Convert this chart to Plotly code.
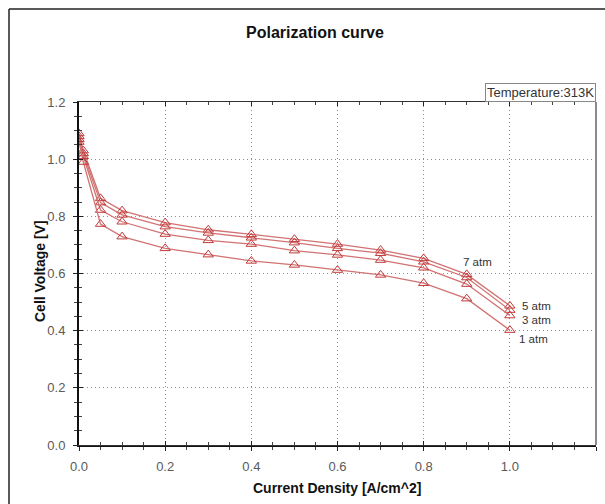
import plotly.graph_objects as go

# Current density [A/cm^2]
current_density = [0, 0.01, 0.05, 0.1, 0.2, 0.3, 0.4, 0.5, 0.6, 0.7, 0.8, 0.9, 1.0]

# Cell voltage [V] for each operating pressure
v_7atm = [1.09, 1.03, 0.863, 0.820, 0.778, 0.753, 0.737, 0.720, 0.703, 0.682, 0.653, 0.597, 0.487]
v_5atm = [1.08, 1.02, 0.848, 0.805, 0.764, 0.742, 0.725, 0.708, 0.688, 0.671, 0.641, 0.586, 0.472]
v_3atm = [1.07, 1.01, 0.822, 0.781, 0.738, 0.716, 0.703, 0.680, 0.665, 0.647, 0.620, 0.563, 0.453]
v_1atm = [1.06, 0.99, 0.773, 0.729, 0.688, 0.666, 0.644, 0.630, 0.612, 0.595, 0.566, 0.512, 0.402]

series_names = ["7 atm", "5 atm", "3 atm", "1 atm"]
series_values = [v_7atm, v_5atm, v_3atm, v_1atm]

# Curve label positions (data coordinates)
label_x = [0.925, 1.063, 1.062, 1.055]
label_y = [0.641, 0.487, 0.437, 0.370]

tick_vals = [0.0, 0.2, 0.4, 0.6, 0.8, 1.0, 1.2]

FONT = "Liberation Sans, Arial, sans-serif"
LINE_RED = "#d27272"
MARK_RED = "#c03a3a"

# plot-area pixel box inside the 605x504 canvas
L, R, T, B = 79, 596, 102, 445
W, H = R - L, B - T

fig = go.Figure()

for name, vals in zip(series_names, series_values):
    fig.add_trace(go.Scatter(
        x=current_density, y=vals, name=name, mode="lines+markers",
        line=dict(color=LINE_RED, width=1.3),
        marker=dict(symbol="triangle-up-open", size=9,
                    color=MARK_RED, line=dict(color=MARK_RED, width=1)),
        showlegend=False,
    ))

# companion axes carrying the inward half of the tick marks
fig.add_trace(go.Scatter(x=[None], y=[None], xaxis="x2", yaxis="y2",
                         showlegend=False, hoverinfo="skip"))

for name, lx, ly in zip(series_names, label_x, label_y):
    fig.add_annotation(x=lx, y=ly, text=name, showarrow=False,
                       xanchor="center", yanchor="middle",
                       font=dict(family=FONT, size=11.5, color="#333333"))

grid = dict(showgrid=True, gridcolor="#8c8c8c", griddash="1px,3px", gridwidth=1)

fig.update_layout(
    width=605, height=504,
    margin=dict(l=L, r=605 - R, t=T, b=504 - B),
    paper_bgcolor="white", plot_bgcolor="white",
    font=dict(family=FONT, size=13, color="#5a5a5a"),
    title=dict(text="<b>Polarization curve</b>", x=315 / 605, y=1 - 32 / 504,
               xanchor="center", yanchor="middle",
               font=dict(family=FONT, size=16, color="#111111")),
    xaxis=dict(range=[0, 1.2], tickvals=tick_vals, tickformat=".1f",
               ticks="outside", ticklen=4, tickcolor="#222", tickwidth=1,
               ticklabelstandoff=4,
               minor=dict(dtick=0.05, ticks="outside", ticklen=3, tickcolor="#444"),
               showline=True, linecolor="#111", linewidth=2,
               zeroline=False, **grid),
    yaxis=dict(range=[0, 1.2], tickvals=tick_vals, tickformat=".1f",
               ticks="outside", ticklen=4, tickcolor="#222", tickwidth=1,
               ticklabelstandoff=5,
               minor=dict(dtick=0.05, ticks="outside", ticklen=3, tickcolor="#444"),
               showline=True, linecolor="#111", linewidth=2,
               zeroline=False, **grid),
    xaxis2=dict(overlaying="x", anchor="y2", side="bottom", range=[0, 1.2],
                tickvals=tick_vals, showticklabels=False,
                ticks="inside", ticklen=4, tickcolor="#222",
                minor=dict(dtick=0.05, ticks="inside", ticklen=3, tickcolor="#444"),
                showline=True, linecolor="#333", linewidth=1, mirror="ticks",
                showgrid=False, zeroline=False),
    yaxis2=dict(overlaying="y", anchor="x2", side="left", range=[0, 1.2],
                tickvals=tick_vals, showticklabels=False,
                ticks="inside", ticklen=4, tickcolor="#222",
                minor=dict(dtick=0.05, ticks="inside", ticklen=3, tickcolor="#444"),
                showline=False, showgrid=False, zeroline=False),
)

# right border of the plot area
fig.add_shape(type="line", xref="paper", yref="paper", x0=1, x1=1, y0=0, y1=1,
              line=dict(color="#8a8a8a", width=2))

# axis titles
fig.add_annotation(xref="paper", yref="paper", x=(337 - L) / W, y=(B - 488) / H,
                   xanchor="center", yanchor="middle",
                   text="<b>Current Density [A/cm^2]</b>", showarrow=False,
                   font=dict(family=FONT, size=14, color="#111111"))
fig.add_annotation(xref="paper", yref="paper", x=(40 - L) / W, y=(B - 271) / H,
                   xanchor="center", yanchor="middle",
                   text="<b>Cell Voltage [V]</b>", showarrow=False, textangle=-90,
                   font=dict(family=FONT, size=14, color="#111111"))

# temperature box
fig.add_annotation(xref="paper", yref="paper", x=1.0, y=1.0,
                   xanchor="right", yanchor="bottom",
                   text="Temperature:313K", showarrow=False,
                   bordercolor="#888888", borderwidth=1, borderpad=1,
                   bgcolor="white",
                   font=dict(family=FONT, size=13, color="#333333"))

# outer frame (left and top edges)
fx = (9 - L) / W
fy = (B - 9) / H
fig.add_shape(type="line", xref="paper", yref="paper",
              x0=fx, y0=fy, x1=fx, y1=(B - 520) / H,
              line=dict(color="#222", width=1.5))
fig.add_shape(type="line", xref="paper", yref="paper",
              x0=fx, y0=fy, x1=(620 - L) / W, y1=fy,
              line=dict(color="#222", width=1.5))

fig.write_html("out.html")
